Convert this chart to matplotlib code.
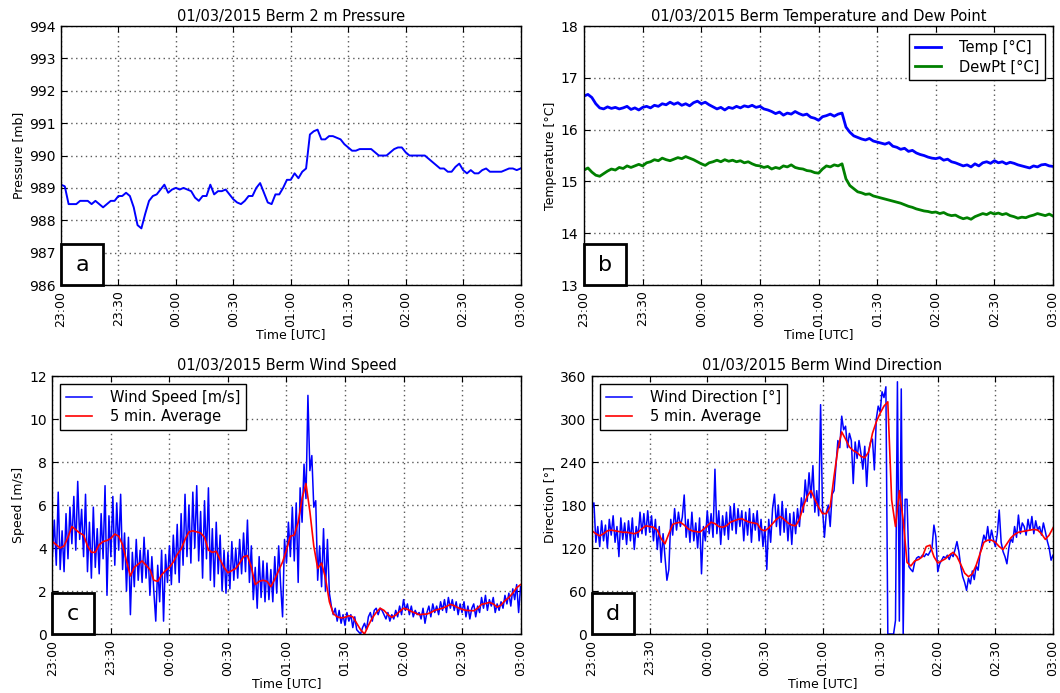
import matplotlib
matplotlib.use("Agg")
import matplotlib.pyplot as plt
import matplotlib.dates as mdates
from matplotlib.patches import Rectangle
import pandas as pd

# ---------------------------------------------------------------------------
# Data (23:00 -> 03:00 UTC)
# ---------------------------------------------------------------------------
START = "2015-01-03 23:00"
END = "2015-01-04 03:00"

# station pressure [mb], every 2 min
pressure = [
    989.1, 989.05, 988.5, 988.5, 988.5, 988.6, 988.6, 988.6, 988.5, 988.6,
    988.5, 988.4, 988.5, 988.6, 988.6, 988.75, 988.75, 988.85, 988.75, 988.4,
    987.85, 987.75, 988.2, 988.6, 988.75, 988.8, 988.95, 989.1, 988.85, 988.95,
    989.0, 988.95, 989.0, 988.95, 988.9, 988.7, 988.6, 988.75, 988.75, 989.1,
    988.8, 988.9, 988.9, 988.95, 988.8, 988.65, 988.55, 988.5, 988.6, 988.75,
    988.75, 989.0, 989.15, 988.85, 988.55, 988.5, 988.8, 988.8, 989.0, 989.25,
    989.25, 989.45, 989.3, 989.5, 989.6, 990.65, 990.75, 990.8, 990.5, 990.5,
    990.6, 990.6, 990.55, 990.5, 990.35, 990.25, 990.15, 990.15, 990.2, 990.2,
    990.2, 990.2, 990.1, 990.0, 990.0, 990.0, 990.1, 990.2, 990.25, 990.25,
    990.1, 990.0, 990.0, 990.0, 990.0, 990.0, 989.9, 989.8, 989.7, 989.6,
    989.6, 989.5, 989.5, 989.65, 989.75, 989.55, 989.45, 989.55, 989.45, 989.45,
    989.55, 989.6, 989.5, 989.5, 989.5, 989.5, 989.55, 989.6, 989.6, 989.55,
    989.6,
]

# temperature and dew point [degC], every 2 min
temp = [
    16.65, 16.68, 16.62, 16.5, 16.42, 16.4, 16.44, 16.41, 16.43, 16.4,
    16.42, 16.45, 16.39, 16.42, 16.38, 16.43, 16.45, 16.42, 16.47, 16.45,
    16.5, 16.48, 16.53, 16.49, 16.52, 16.47, 16.5, 16.46, 16.52, 16.55,
    16.5, 16.53, 16.48, 16.44, 16.4, 16.43, 16.38, 16.43, 16.41, 16.45,
    16.42, 16.46, 16.44, 16.47, 16.43, 16.45, 16.4, 16.38, 16.35, 16.31,
    16.34, 16.28, 16.32, 16.3, 16.35, 16.31, 16.28, 16.3, 16.24, 16.22,
    16.18, 16.25, 16.27, 16.3, 16.26, 16.3, 16.32, 16.05, 15.95, 15.88,
    15.85, 15.82, 15.8, 15.83, 15.78, 15.76, 15.74, 15.72, 15.75, 15.68,
    15.66, 15.62, 15.64, 15.58, 15.6, 15.55, 15.52, 15.5, 15.47, 15.45,
    15.44, 15.46, 15.41, 15.43, 15.38, 15.36, 15.33, 15.3, 15.32, 15.28,
    15.34, 15.3, 15.36, 15.38, 15.35, 15.4, 15.36, 15.38, 15.34, 15.37,
    15.35, 15.32, 15.3, 15.28, 15.26, 15.3, 15.28, 15.32, 15.33, 15.3,
    15.29,
]
dewpt = [
    15.22, 15.26, 15.18, 15.12, 15.1, 15.15, 15.2, 15.24, 15.22, 15.27,
    15.25, 15.3, 15.27, 15.3, 15.33, 15.3, 15.36, 15.38, 15.42, 15.4,
    15.45, 15.42, 15.4, 15.43, 15.46, 15.44, 15.48, 15.45, 15.42, 15.38,
    15.34, 15.31, 15.36, 15.38, 15.41, 15.38, 15.42, 15.39, 15.41, 15.38,
    15.4, 15.36, 15.38, 15.34, 15.31, 15.3, 15.27, 15.29, 15.24, 15.27,
    15.25, 15.3, 15.28, 15.32, 15.27, 15.25, 15.24, 15.21, 15.2, 15.17,
    15.16, 15.24, 15.3, 15.28, 15.32, 15.3, 15.34, 15.05, 14.92, 14.86,
    14.8, 14.78, 14.75, 14.76, 14.72, 14.7, 14.68, 14.66, 14.64, 14.62,
    14.6, 14.58, 14.55, 14.52, 14.5, 14.47, 14.45, 14.43, 14.42, 14.4,
    14.41, 14.38, 14.4, 14.36, 14.34, 14.35, 14.31, 14.28, 14.3, 14.27,
    14.32, 14.35, 14.38, 14.36, 14.4, 14.37, 14.39, 14.36, 14.38, 14.34,
    14.32, 14.29, 14.31, 14.3, 14.33, 14.35, 14.38, 14.36, 14.34, 14.37,
    14.33,
]

# wind speed [m/s], every minute, and its 5 min average every 2 min
wspd = [
    3.6, 5.3, 3.2, 6.6, 3.0, 4.8, 2.9, 5.6, 3.5, 5.9,
    4.2, 6.4, 3.9, 7.1, 4.4, 5.8, 3.6, 6.5, 2.9, 5.2,
    2.6, 5.9, 3.1, 4.9, 2.8, 5.6, 3.5, 6.9, 1.8, 5.5,
    3.6, 6.4, 3.2, 6.1, 3.9, 6.5, 3.0, 4.7, 2.0, 4.5,
    0.9, 3.8, 2.2, 4.4, 2.5, 3.9, 2.4, 4.5, 2.6, 3.9,
    1.8, 3.6, 2.0, 0.6, 3.2, 1.5, 3.9, 0.6, 3.7, 2.4,
    4.1, 2.3, 4.6, 2.8, 5.1, 2.4, 5.6, 3.2, 6.5, 3.6,
    6.0, 3.3, 6.6, 4.0, 6.9, 3.4, 5.7, 2.6, 6.2, 3.5,
    6.8, 2.5, 4.9, 2.2, 5.2, 2.8, 4.6, 2.0, 3.9, 1.9,
    3.8, 2.1, 4.3, 2.5, 4.0, 2.6, 4.4, 2.8, 4.7, 2.9,
    5.3, 2.4, 4.1, 1.6, 3.1, 1.2, 3.6, 1.7, 3.4, 1.5,
    3.3, 1.6, 3.0, 1.5, 3.6, 1.9, 4.1, 2.3, 0.8, 4.4,
    3.3, 5.2, 3.6, 5.9, 3.4, 6.1, 2.4, 6.8, 5.2, 7.9,
    6.3, 11.1, 7.6, 8.3, 5.9, 6.2, 2.5, 4.1, 2.2, 4.9,
    2.0, 4.4, 1.9, 1.3, 0.9, 1.2, 0.6, 1.1, 0.5, 0.9,
    0.4, 1.0, 0.6, 0.9, 0.3, 0.8, 0.2, 0.1, 0.0, 0.3,
    0.5, 0.2, 0.8, 1.0, 0.6, 1.1, 1.2, 0.9, 1.2, 1.1,
    0.9, 0.7, 1.0, 0.6, 0.9, 0.7, 1.1, 0.8, 1.3, 0.9,
    1.6, 1.1, 1.4, 0.9, 1.3, 0.8, 1.1, 0.9, 1.0, 0.7,
    1.2, 0.5, 1.0, 1.3, 0.8, 1.4, 1.0, 1.3, 0.9, 1.5,
    1.1, 1.6, 1.0, 1.7, 1.2, 1.6, 1.1, 1.5, 0.9, 1.4,
    1.0, 1.5, 0.8, 1.3, 0.7, 1.2, 1.4, 0.8, 1.3, 1.0,
    1.7, 1.2, 1.8, 1.1, 1.6, 1.3, 1.7, 1.0, 1.4, 1.1,
    1.5, 1.2, 1.8, 1.4, 1.9, 1.3, 2.1, 1.6, 2.3, 1.0,
    2.2,
]
wspd_avg = [
    4.3, 4.15, 4.0, 4.1, 4.5, 5.0, 4.85, 4.7, 4.6, 4.1,
    3.8, 3.8, 4.15, 4.3, 4.35, 4.45, 4.65, 4.55, 4.15, 3.4,
    2.7, 3.1, 3.25, 3.4, 3.2, 3.0, 2.5, 2.45, 2.75, 2.95,
    3.1, 3.35, 3.7, 3.95, 4.4, 4.75, 4.8, 4.75, 4.7, 4.5,
    3.9, 3.8, 3.85, 3.45, 3.1, 2.85, 2.95, 3.05, 3.3, 3.6,
    3.65, 3.1, 2.3, 2.45, 2.5, 2.45, 2.2, 2.55, 2.95, 3.35,
    3.9, 4.55, 4.6, 5.2, 6.3, 7.0, 5.7, 4.1, 3.05, 3.3,
    2.6, 1.5, 0.95, 0.8, 0.75, 0.78, 0.85, 0.8, 0.5, 0.2,
    0.0, 0.4, 0.75, 1.0, 1.2, 1.1, 0.9, 0.78, 0.88, 1.05,
    1.2, 1.15, 1.05, 0.98, 0.9, 0.92, 0.93, 1.0, 1.1, 1.15,
    1.2, 1.28, 1.38, 1.32, 1.22, 1.15, 1.1, 1.09, 1.08, 1.2,
    1.38, 1.42, 1.47, 1.4, 1.25, 1.35, 1.55, 1.7, 1.9, 2.15,
    2.3,
]

# wind direction [deg], every minute, and its 5 min average every 2 min
wdir = [
    175, 183, 128, 150, 122, 158, 130, 152, 120, 160,
    138, 165, 128, 150, 108, 162, 132, 155, 125, 158,
    130, 162, 118, 150, 135, 170, 140, 168, 138, 172,
    142, 165, 130, 160, 118, 150, 100, 140, 108, 75,
    90, 160, 138, 175, 145, 170, 150, 163, 194, 135,
    160, 128, 170, 130, 155, 120, 162, 84, 150, 130,
    172, 140, 168, 135, 230, 140, 172, 125, 165, 138,
    170, 132, 178, 145, 182, 140, 175, 150, 172, 130,
    170, 138, 175, 128, 168, 145, 172, 130, 160, 122,
    150, 90, 160, 128, 175, 195, 150, 180, 138, 185,
    142, 175, 130, 168, 125, 170, 140, 175, 150, 190,
    170, 215, 185, 225, 190, 235, 170, 200, 165, 320,
    175, 135, 170, 180, 150, 195, 200, 235, 270, 260,
    304, 285, 290, 260, 280, 270, 210, 268, 245, 270,
    252, 230, 262, 206, 255, 268, 272, 229, 300, 318,
    310, 338, 330, 345, 0, 0, 0, 0, 19, 352,
    18, 342, 0, 188, 188, 94, 90, 87, 100, 106,
    108, 106, 110, 108, 112, 110, 115, 120, 152, 136,
    87, 98, 103, 108, 106, 110, 104, 112, 108, 118,
    129, 115, 94, 80, 72, 61, 78, 70, 88, 76,
    95, 89, 112, 125, 138, 130, 150, 128, 145, 132,
    122, 140, 173, 128, 115, 108, 98, 120, 133, 128,
    150, 135, 166, 140, 155, 150, 138, 160, 145, 164,
    140, 158, 145, 150, 138, 155, 143, 130, 120, 103,
    110,
]
wdir_avg = [
    144, 140, 137, 140, 144, 145, 144, 143, 142, 142,
    141, 140, 142, 147, 151, 150, 149, 145, 133, 126,
    140, 153, 155, 156, 152, 147, 144, 143, 142, 146,
    151, 156, 154, 150, 149, 151, 156, 158, 160, 161,
    158, 156, 155, 154, 146, 144, 148, 154, 160, 164,
    160, 155, 152, 151, 160, 178, 192, 200, 188, 177,
    168, 168, 178, 220, 258, 282, 272, 261, 256, 253,
    248, 246, 254, 280, 296, 308, 318, 324, 187, 150,
    200, 159, 100, 95, 102, 104, 108, 122, 124, 108,
    99, 102, 105, 110, 114, 108, 97, 85, 80, 84,
    96, 112, 128, 131, 131, 128, 122, 118, 126, 134,
    139, 142, 143, 144, 145, 146, 145, 140, 132, 138,
    148,
]

BLUE = (0, 0, 1)
GREEN = (0, 0.5, 0)
RED = (1, 0, 0)


def times(values, step_min):
    return pd.date_range(START, periods=len(values), freq=f"{step_min}min").to_numpy()


def style_axes(ax, title, ylabel, ylim, yticks, letter):
    ax.set_xlim(pd.Timestamp(START), pd.Timestamp(END))
    ax.set_ylim(*ylim)
    ax.set_yticks(yticks)
    ax.xaxis.set_major_locator(mdates.MinuteLocator(byminute=[0, 30]))
    ax.xaxis.set_major_formatter(mdates.DateFormatter("%H:%M"))
    ax.tick_params(axis="x", labelrotation=90, labelsize=9)
    ax.tick_params(axis="y", labelsize=10)
    ax.tick_params(direction="in", top=True, right=True, length=4, width=0.8, pad=4)
    ax.grid(True, linestyle=(0, (1, 2.5)), color="0.35", linewidth=1.0)
    for sp in ax.spines.values():
        sp.set_linewidth(1.0)
    ax.set_title(title, fontsize=10.5, pad=4)
    ax.set_xlabel("Time [UTC]", fontsize=9, labelpad=1)
    ax.set_ylabel(ylabel, fontsize=9, labelpad=3)
    # panel letter in a boxed square in the lower-left corner
    pos = ax.get_position()
    w = 42 / (pos.width * 1060)
    h = 41 / (pos.height * 693)
    ax.add_patch(Rectangle((0, 0), w, h, transform=ax.transAxes, facecolor="white",
                           edgecolor="black", linewidth=2, zorder=5, clip_on=False))
    ax.text(w / 2, h / 2, letter, transform=ax.transAxes, ha="center", va="center",
            fontsize=16, zorder=6)


def add_legend(ax, loc):
    leg = ax.legend(loc=loc, fontsize=10.5, fancybox=False, framealpha=1,
                    edgecolor="black", borderaxespad=0.55, handlelength=1.8,
                    handletextpad=1.2, borderpad=0.4, labelspacing=0.3)
    leg.get_frame().set_linewidth(1.0)


fig = plt.figure(figsize=(10.6, 6.93), dpi=100)
fig.patch.set_facecolor("white")

ax_a = fig.add_axes([0.0575, 0.5887, 0.4336, 0.3737])
ax_b = fig.add_axes([0.551, 0.5887, 0.4425, 0.3737])
ax_c = fig.add_axes([0.0494, 0.0851, 0.4417, 0.3723])
ax_d = fig.add_axes([0.5585, 0.0851, 0.4349, 0.3723])

# (a) pressure
ax_a.plot(times(pressure, 2), pressure, color=BLUE, linewidth=1.4)
style_axes(ax_a, "01/03/2015 Berm 2 m Pressure", "Pressure [mb]",
           (986, 994), range(986, 995), "a")

# (b) temperature / dew point
ax_b.plot(times(temp, 2), temp, color=BLUE, linewidth=2.0, label="Temp [°C]")
ax_b.plot(times(dewpt, 2), dewpt, color=GREEN, linewidth=2.0, label="DewPt [°C]")
style_axes(ax_b, "01/03/2015 Berm Temperature and Dew Point", "Temperature [°C]",
           (13, 18), range(13, 19), "b")
add_legend(ax_b, "upper right")

# (c) wind speed
ax_c.plot(times(wspd, 1), wspd, color=BLUE, linewidth=1.1, label="Wind Speed [m/s]")
ax_c.plot(times(wspd_avg, 2), wspd_avg, color=RED, linewidth=1.2, label="5 min. Average")
style_axes(ax_c, "01/03/2015 Berm Wind Speed", "Speed [m/s]",
           (0, 12), range(0, 13, 2), "c")
add_legend(ax_c, "upper left")

# (d) wind direction
ax_d.plot(times(wdir, 1), wdir, color=BLUE, linewidth=1.1, label="Wind Direction [°]")
ax_d.plot(times(wdir_avg, 2), wdir_avg, color=RED, linewidth=1.2, label="5 min. Average")
style_axes(ax_d, "01/03/2015 Berm Wind Direction", "Direction [°]",
           (0, 360), range(0, 361, 60), "d")
add_legend(ax_d, "upper left")

fig.savefig("out.png", dpi=100, facecolor="white")
